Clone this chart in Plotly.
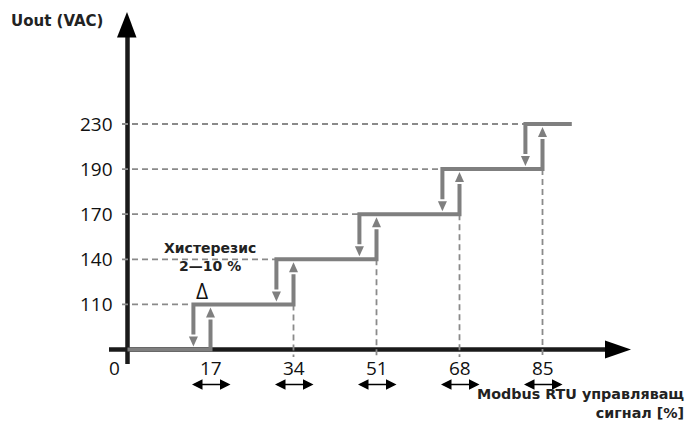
import plotly.graph_objects as go

# ---- data ----
x_thresholds = [17, 34, 51, 68, 85]          # rising switch points (%)
x_tick_labels = ["17", "34", "51", "68", "85"]
voltage_levels = [110, 140, 170, 190, 230]   # output steps (VAC)
y_tick_labels = ["110", "140", "170", "190", "230"]
hysteresis = 3.5                              # falling edge offset (%)
x_end = 91                                    # end of last step (%)

# ---- geometry helpers (pixel <-> data) ----
W, H = 687, 421
PX = 83 / 17       # pixels per % unit
PY = 45.1          # pixels per level
X0PX, Y0PX = 127.5, 349.5

def xpx(p):
    return (p - X0PX) / PX

def ypx(p):
    return (Y0PX - p) / PY

def dy(p):
    return p / PY

GRAY = "#7f7f7f"
DASH = "#8a8a8a"
BLACK = "#1a1a1a"

levels = list(range(1, len(voltage_levels) + 1))
falls = [t - hysteresis for t in x_thresholds]

TIPGAP, HEAD, LGAP = 3, 10, 2
off = dy(TIPGAP + HEAD + LGAP)

fig = go.Figure()

# dashed guide lines
dx_, dy_ = [], []
for k, f in zip(levels, falls):
    dx_ += [xpx(122), f, None]
    dy_ += [k, k, None]
for k, t in zip(levels[:-1], x_thresholds[1:]):
    dx_ += [t, t, None]
    dy_ += [k, ypx(357), None]
fig.add_trace(go.Scatter(x=dx_, y=dy_, mode="lines",
                         line=dict(color=DASH, width=1.8, dash="6px,4px"),
                         hoverinfo="skip", showlegend=False))

# stepped characteristic
sx, sy = [0, x_thresholds[0], x_thresholds[0], None], [0, 0, 1 - off, None]
for i, k in enumerate(levels):
    f = falls[i]
    sx += [f, f]
    sy += [k - 1 + off, k]
    if i + 1 < len(x_thresholds):
        r = x_thresholds[i + 1]
        sx += [r, r, None]
        sy += [k, k + 1 - off, None]
    else:
        sx += [x_end, None]
        sy += [k, None]
fig.add_trace(go.Scatter(x=sx, y=sy, mode="lines",
                         line=dict(color=GRAY, width=4),
                         hoverinfo="skip", showlegend=False))

shapes = []
# arrow heads on the steps
for i, k in enumerate(levels):
    r = x_thresholds[i]
    shapes.append(dict(type="path", xsizemode="pixel", ysizemode="pixel",
                       xanchor=r, yanchor=k - dy(TIPGAP),
                       path=f"M0,0 L-4.5,-{HEAD} L4.5,-{HEAD} Z",
                       fillcolor=GRAY, line=dict(width=0)))
    f = falls[i]
    shapes.append(dict(type="path", xsizemode="pixel", ysizemode="pixel",
                       xanchor=f, yanchor=k - 1 + dy(TIPGAP),
                       path=f"M0,0 L-4.5,{HEAD} L4.5,{HEAD} Z",
                       fillcolor=GRAY, line=dict(width=0)))

# axes with arrow heads
shapes.append(dict(type="line", x0=0, x1=0, y0=ypx(364), y1=ypx(36),
                   line=dict(color=BLACK, width=4.5), layer="below"))
shapes.append(dict(type="path",
                   path=f"M{xpx(117)},{ypx(37.5)} L{xpx(136.5)},{ypx(37.5)} L{xpx(127)},{ypx(12)} Z",
                   fillcolor="black", line=dict(width=0)))
shapes.append(dict(type="line", x0=xpx(109), x1=xpx(607), y0=0, y1=0,
                   line=dict(color=BLACK, width=4.5), layer="below"))
shapes.append(dict(type="path",
                   path=f"M{xpx(605)},{ypx(340.5)} L{xpx(605)},{ypx(358.5)} L{xpx(631)},{ypx(349.5)} Z",
                   fillcolor="black", line=dict(width=0)))

NUMFONT = dict(family="Open Sans", size=19, color="#111111")
BOLDFONT = dict(family="DejaVu Sans", size=14, color="#222222", weight="bold")

ann = []
for t, lab in zip(x_thresholds, x_tick_labels):
    ann.append(dict(x=t, y=ypx(368), text=lab, showarrow=False,
                    xanchor="center", yanchor="middle", font=NUMFONT))
    ann.append(dict(x=t + xpx(147.5), y=ypx(384.5), ax=t - xpx(147.5), ay=ypx(384.5),
                    axref="x", ayref="y", xref="x", yref="y", text="",
                    showarrow=True, arrowhead=2, arrowside="end+start",
                    arrowsize=1.5, arrowwidth=1.4, arrowcolor="black",
                    standoff=0, startstandoff=0))
ann.append(dict(x=xpx(114.5), y=ypx(368), text="0", showarrow=False,
                xanchor="center", yanchor="middle", font=NUMFONT))
for k, lab in zip(levels, y_tick_labels):
    ann.append(dict(x=xpx(115), y=k, text=lab, showarrow=False,
                    xanchor="right", yanchor="middle", font=NUMFONT))

ann.append(dict(x=(falls[0] + x_thresholds[0]) / 2, y=ypx(291), text="Δ",
                showarrow=False, xanchor="center", yanchor="middle",
                font=dict(family="Open Sans", size=21, color="#111111")))
ann.append(dict(x=xpx(210), y=ypx(257), text="Хистерезис<br>2—10 %", showarrow=False,
                xanchor="center", yanchor="middle", align="center", font=BOLDFONT))
ann.append(dict(x=xpx(9), y=ypx(20.5), text="Uout (VAC)", showarrow=False,
                xanchor="left", yanchor="middle", font={**BOLDFONT, "size": 15}))
ann.append(dict(x=xpx(686), y=ypx(403), text="Modbus RTU управляващ<br>сигнал [%]",
                showarrow=False, xanchor="right", yanchor="middle", align="right",
                font={**BOLDFONT, "size": 14.3}))

fig.update_layout(
    width=W, height=H,
    margin=dict(l=0, r=0, t=0, b=0),
    paper_bgcolor="white", plot_bgcolor="white",
    xaxis=dict(range=[xpx(0), xpx(W)], visible=False, fixedrange=True),
    yaxis=dict(range=[ypx(H), ypx(0)], visible=False, fixedrange=True),
    shapes=shapes, annotations=ann, showlegend=False,
)

fig.write_html("out.html", config={"displayModeBar": False},
               post_script="document.body.style.margin='0';document.body.style.overflow='hidden';")
